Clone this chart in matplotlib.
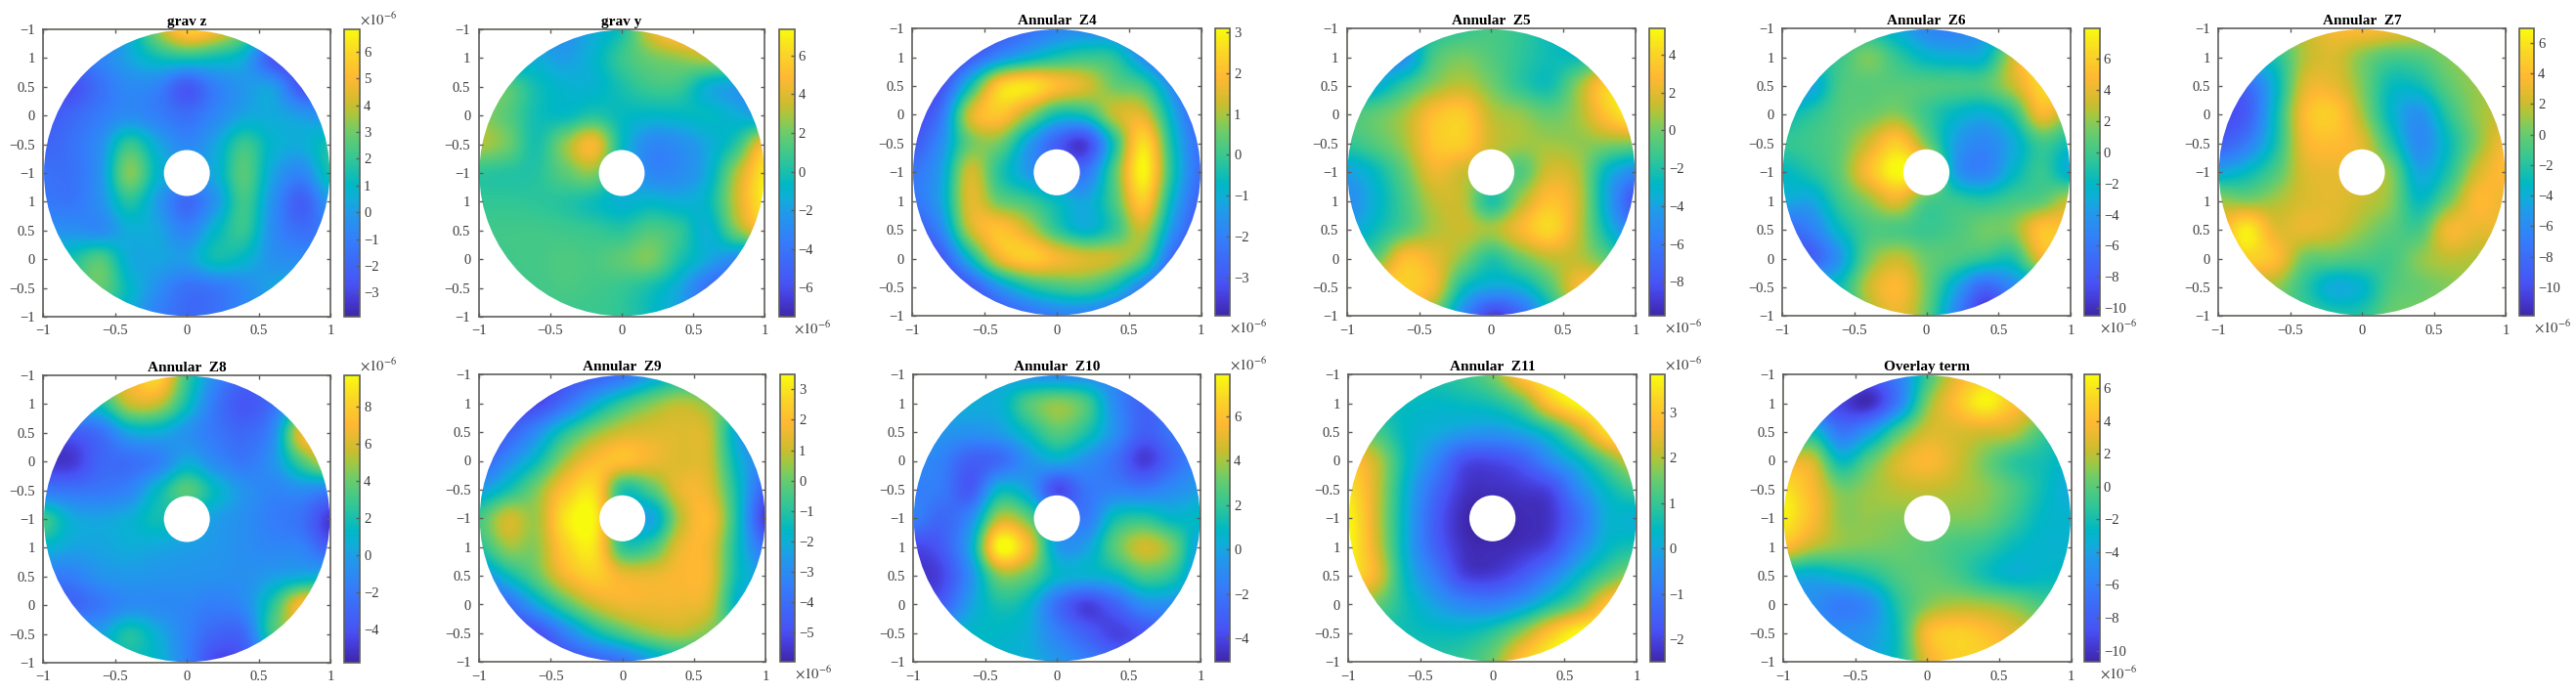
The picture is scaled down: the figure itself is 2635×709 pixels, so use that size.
import numpy as np
import matplotlib
matplotlib.use("Agg")
import matplotlib.pyplot as plt
from matplotlib.colors import LinearSegmentedColormap
from matplotlib.patches import Circle

plt.rcParams['font.family'] = ['Liberation Serif', 'DejaVu Serif']
plt.rcParams['mathtext.fontset'] = 'stix'

W, H = 2635, 709

titles = ['grav z', 'grav y', 'Annular  Z4', 'Annular  Z5', 'Annular  Z6', 'Annular  Z7',
          'Annular  Z8', 'Annular  Z9', 'Annular  Z10', 'Annular  Z11', 'Overlay term']
x_tick_labels = ['−1', '−0.5', '0', '0.5', '1']
y_tick_labels = ['−1', '1', '0.5', '0', '−0.5', '−1', '1', '0.5', '0', '−0.5', '−1']

# values (x 1e-6) sampled on an 11 x 11 grid, top row first
grav_z = [
 [-1,-1,-1,.5,3.5,5.8,5,3,0,-3,-3.5],
 [-2,-1.5,-.8,.3,1.3,1.6,1.3,.5,-2.5,-3.5,-3.5],
 [-3,-2.8,-1.5,-.6,-.9,-2.4,-1,-.1,0,-2.6,-3.2],
 [-2.5,-1.9,-1.1,-.5,-1,-1.6,-.7,.3,.4,0,-.5],
 [-2,-1.5,-.4,2,.4,-.7,.3,2.1,.8,.5,1.5],
 [-1.5,-1.5,-.2,3.2,.9,0,.5,2.6,.3,-.7,1.5],
 [-1.2,-1.3,-.3,1.7,0,-1.8,-.2,2.2,-.3,-2.2,0],
 [-.3,-.3,-.5,.5,.3,-.8,.9,2,-.5,-1.6,-1],
 [1,1.5,2.5,.5,.3,.1,1.3,.9,-.3,-.5,-.5],
 [1,2,2.8,1,-.4,-1.5,-1.3,-.6,.3,.5,.5],
 [1,1.5,1.5,.5,-1,-1.8,-1.5,-.5,.3,.5,.5]]
grav_y = [
 [-3,-3,-3,-2.5,-1.5,0,4,6,6,5,5],
 [-2,-2,-1.5,-2,-1,.8,2,2.6,3.2,3,3],
 [2,1.5,-.2,-1,-1,0,.9,.8,-1.2,-2,-2.5],
 [2.5,1.5,-.2,-.5,.3,-.5,-.8,-.7,-.6,-1.3,-2],
 [3,2,0,2.5,4.6,-.5,-3,-2.7,-1.5,.5,5],
 [.5,.3,.3,1.6,2.4,-1,-3,-2.8,-1.3,3,6.8],
 [.6,.6,.5,.3,-.3,-1.2,-.9,-1.3,-.6,3.5,7],
 [1,1,1,.9,.7,.4,1.3,.6,-1.2,2.2,5],
 [1,1,1.1,1.3,1.2,1.7,2.2,.1,-1.6,-3,-4],
 [1,1,1,1.2,1,.7,-.1,-1.6,-4.3,-6,-6],
 [1,1,1,.8,.8,.5,-.5,-2,-4,-6,-6]]
z4 = [
 [-3.9,-3.9,-3.5,-3,-2.5,-2,-1.8,-2,-3,-3.5,-3.9],
 [-3.9,-3.8,-3,-1.8,-1,-.4,-.1,-.3,-1.8,-3.2,-3.9],
 [-3.9,-3.2,-.6,2.2,2.7,2,1.4,.5,0,-1.8,-3.5],
 [-3.5,-2.3,1.3,2.2,1,-.4,-.3,1.2,1.4,-1,-3],
 [-3,-1.7,.5,.6,-1.2,-2.8,-3.4,-.3,2.6,-.5,-2.5],
 [-2.3,-1.3,1.3,-.2,-1.4,-2.2,-2.3,.3,3,-.3,-2.5],
 [-2.3,-1.2,1.5,.5,0,-.7,-1.2,.2,2.3,-.8,-2.8],
 [-3,-1.8,1.2,2.1,1.3,-.1,-.9,-.1,1.2,-1.5,-3.2],
 [-3.9,-3,-.7,1.6,2.3,1.8,1.4,1.2,.3,-2.5,-3.5],
 [-3.9,-3.8,-3,-1.5,-.4,.1,.2,-.5,-2,-3.3,-3.8],
 [-3.9,-3.9,-3.6,-3,-2.5,-2,-2,-2.5,-3.2,-3.6,-3.9]]
z5 = [
 [-2,-2,-2,-2,-1.5,-1,-1.5,-2.5,-3,-3,-3],
 [-5,-5,-4.7,-1,0,-.7,-1.6,-2.4,-2.5,-1,0],
 [-4,-3.5,-1.5,.4,1.2,0,-1.6,-2.3,.5,3.8,4],
 [-1,-.4,.8,3,3.6,1.2,.5,-.3,.8,3.5,5.3],
 [-1.5,-.6,.8,3.4,3.7,1.5,.8,.7,.5,.4,.3],
 [-4,-2.6,-.3,2.3,1.5,.5,-.7,1.7,1,-3,-5],
 [-5,-3.2,-1,1.2,1.2,-2,.8,3.2,1.5,-3.8,-8],
 [-4,-2.5,-.7,.9,1.4,.8,2.6,4.2,1.4,-2.8,-6],
 [-1,-.4,3,2.2,.3,-1.8,-.2,1.2,1.2,-.5,-2],
 [2,3.5,3.8,2.5,-2.3,-3.8,-3.3,-.8,2.6,3,3],
 [2,3,3,0,-5,-8.8,-7,-3,1,2,2]]
z6 = [
 [-1,-1,-1,-1.5,-3,-5,-5.5,-4,-2,0,2],
 [-1,-1,-.2,1.5,-.5,-2.3,-2.8,-2.4,3,7,7],
 [-5,-3.5,.2,.7,.7,.5,.3,.5,3,6.5,7],
 [-2,-.8,.6,1.2,1.8,-.2,-2,-2.8,-.8,4.5,2],
 [-.5,0,.9,3.3,5.8,1.5,-3.5,-5,-3,0,-1.5],
 [-2,-.9,1,5,7.9,6,-3.5,-5.2,-2.3,-.3,-2.8],
 [-3,-3.2,-.2,2,4,.6,-.3,-.8,.1,.8,3],
 [-7,-5.5,-2,.2,.3,-.2,.3,1.3,1.8,5.3,5],
 [-8,-7.5,-4,1.2,3,1.2,.4,-.5,-1,4,5],
 [-2,-2,-1.5,3,4.8,1.5,-3,-7,-5,-3,-3],
 [-2,-2,-2,2,4,1,-5,-10,-8,-5,-5]]
z7 = [
 [0,0,1,2,3.5,4,3.5,2.5,1,1,1],
 [-3,-3,-2,1.5,2.5,.7,-.7,-.5,.6,1,1],
 [-9,-8,-3.5,2.5,3,.5,-2.8,-2.7,-.3,1,1],
 [-10,-9,-3,3.7,4.8,1.3,-3.3,-5.5,-1.8,.9,2],
 [-9,-7,-2.5,3.2,4,2.7,-1.8,-6,-3,.6,3.5],
 [-4.5,-3.2,-.8,2.5,3,2.5,.6,-4.5,-2.2,2.2,4],
 [1,.5,1.3,2.5,2.8,2,.7,-3,0,3.7,3],
 [3,6.3,2.8,3,2.4,1,-.3,-1,3.3,3,3],
 [3,5,4,.2,-.3,-.8,-1,.7,1.8,1.5,1],
 [1,1,1,-1.7,-4.2,-3.5,-.8,0,.6,1,1],
 [1,1,0,-1,-2,-2,0,.5,1,1,1]]
z8 = [
 [2,3,5,7,8.5,3,-1,-3,-3,-3,-3],
 [1,1,2,5.5,5.5,1.8,-2,-3.8,-2.5,1,2],
 [-4,-3.5,-2.4,.3,.6,-.6,-2,-2.8,-1,6.5,7],
 [-5,-5,-3,-2.5,-1.6,.5,-1,-2,-.5,3.3,6],
 [-2,-2.2,-2,-1.3,1.3,3.6,1.3,-.5,-1.3,-.9,-1.5],
 [3,.6,.2,.7,1.8,1,0,-.8,-1.7,-2.4,-5],
 [1,.2,.2,.5,.3,0,-.3,-.8,-1.2,-1.4,-3.5],
 [-2,-1.7,-.6,-.3,-.4,-.5,-.6,-.7,0,.6,1],
 [-3.5,-3,-2,-.9,-1,-1.2,-1.7,-1,2.5,7.2,7],
 [0,0,.2,2.2,.6,-1.4,-3,-2.7,3,5,5],
 [0,0,1,1.5,1,-1.5,-4.5,-4,-1,3,3]]
z9 = [
 [-6,-6,-5.5,-5,-4.5,-3.8,-2.5,-1.5,-1.5,-3,-4],
 [-6,-5.5,-5.2,-3.9,-2.2,-.8,.2,.8,.3,-1,-2],
 [-5.5,-4.5,-3,-1.1,.3,1.1,1.3,1.3,1,-2.2,-3.5],
 [-4.5,-3,-1.5,.6,1.9,2.1,1.6,1.3,1.1,-1.8,-3.3],
 [-2.5,-1.3,.2,2.1,2.8,-1,-.3,1.5,1.4,-1.4,-4.5],
 [-.5,1.1,.6,3,3.3,-1,-2.3,.8,1.9,-1.3,-5.5],
 [-1,.5,.4,2.5,3,-.8,-.6,1.5,1.6,-1.4,-4],
 [-3,-1.5,-.1,1.7,2.5,1.6,1.5,1.8,1.6,-1.4,-2.5],
 [-5,-4,-2.2,-.4,1,1.6,1.6,1.6,1.2,-1.8,-2.5],
 [-6,-5.5,-5,-3.3,-1.6,-.4,.5,.8,.2,-1,-2],
 [-6,-6,-5.5,-5,-4.5,-3.8,-2.5,-1.5,-1.5,-2,-2.5]]
z10 = [
 [1,1,.5,0,-.7,-1,-1,-1.5,-2,-1,-1],
 [.8,.6,.3,.4,2.6,3.6,2.5,-1,-2.8,-2,-1.5],
 [-.3,-.5,-.7,-.3,1.2,2.8,1.6,-.8,-3,-2,-1.5],
 [-1,-1.5,-3,-2.5,-.7,.2,-.8,-2.2,-4.3,-2.6,-1],
 [-1.5,-1.8,-3.2,.7,-.2,-3.8,-2,-1.5,-1.8,-1,-.3],
 [-1.5,-2.6,-1,4.2,3,-1,-1.8,1.2,1.8,.8,.9],
 [-4,-3.2,.2,7.8,5.5,-.2,-.2,2.8,4.6,3.3,-.5],
 [-4.5,-4,-.8,3.5,3,.7,.4,.9,2.5,1.8,-1],
 [-4,-3,-.2,1.5,.8,-2.3,-4.1,-2.8,-.9,-.8,-1],
 [0,0,.8,.8,.3,-1.5,-3,-4.1,-3.5,-3,-2],
 [0,0,.8,.6,.3,-.5,-1.5,-2.5,-3,-3,-3]]
z11 = [
 [.8,.8,.8,.8,1,1.6,3,3.8,3.8,3.8,3.8],
 [.7,.6,.5,.4,.5,.7,1.4,3,3.8,3.8,3.8],
 [1.8,1.2,.4,.1,-.2,-.3,0,.7,2,3.5,3.8],
 [3,2.1,.5,-.6,-1.8,-1.9,-1.5,-.5,.4,1.5,2.5],
 [3.5,2.2,.3,-1.2,-2.2,-2.3,-2.2,-1.9,-.5,.5,1.1],
 [3.8,2.2,.2,-1.5,-2.4,-2.5,-2.4,-2.2,-1.1,.2,.2],
 [3.8,2.3,.2,-1.4,-2.3,-2.4,-2.3,-1.9,-.6,.4,.7],
 [3.5,2.5,.4,-.8,-2,-2.1,-1.6,-.7,.4,1.3,2],
 [2,1.5,.6,-.1,-.6,-.7,-.2,.7,1.6,3,3.8],
 [.8,.7,.6,.5,.5,.9,1.8,3,3.8,3.8,3.8],
 [.8,.8,.8,.8,1,1.6,3,3.8,3.8,3.8,3.8]]
overlay = [
 [-5,-5,-7,-8,-6,-1,3,5,6,6,6],
 [-7,-8,-9.3,-10.3,-6,.8,4.2,6.5,4.5,3,2],
 [-4,-2.5,-6.5,-4.5,-.3,2.5,2.7,2.5,2,-.5,-2],
 [3,2.5,-2.5,0,2.6,3.8,2.5,.7,-1.2,-2,-3],
 [6,3.8,.7,1.3,2,2.2,1.8,1.1,-.3,-2.2,-3.7],
 [6.5,4,1.2,1.2,1,1,.9,.5,-1,-2.7,-3],
 [4,2,1,.7,.5,0,-.6,-1.2,-2.4,-3,-3],
 [-3,-3.5,-2.8,-1.8,-.3,.2,-.5,-2,-3,-2.7,-2.5],
 [-5,-5,-6.2,-5.2,-1.5,.9,1.7,1.5,.8,-.5,-1],
 [-5,-5,-5,-4.5,-2,3.8,5,4.3,3,2,2],
 [-5,-5,-5,-4,-2,3,5,5,4,3,3]]
fields = [grav_z, grav_y, z4, z5, z6, z7, z8, z9, z10, z11, overlay]

color_limits = [(-3.9,6.83),(-7.5,7.35),(-3.93,3.08),(-9.8,5.38),(-10.5,7.92),(-11.88,6.94),
                (-5.8,9.7),(-5.96,3.48),(-5.07,7.87),(-2.5,3.83),(-10.7,6.82)]
color_ticks = [list(range(-3,7)), list(range(-6,7,2)), list(range(-3,4)), list(range(-8,5,2)),
               list(range(-10,7,2)), list(range(-10,7,2)), list(range(-4,9,2)), list(range(-5,4)),
               list(range(-4,7,2)), list(range(-2,4)), list(range(-10,7,2))]
exponent_on_top = [True, False, False, False, False, False, True, False, True, True, False]

# layout in pixels: axes left, axes right, colorbar left, colorbar right, top, bottom
boxes = [(44.3,338,352,368,30,324),(489.6,782.4,796.6,812.5,30,324),(933.3,1228.7,1242.7,1258,29.3,323.3),
         (1377.7,1673,1687,1702.7,29.3,323.3),(1823,2118,2131.7,2147.7,29.3,323.3),(2269,2563,2576.7,2592,29.3,323.3),
         (44.3,338,352,368,384,678),(490,783.3,797.7,813,383.3,677.3),(934,1228.3,1242.7,1258,383.3,677.3),
         (1379,1674.3,1687.7,1703,383.3,677.3),(1824,2118.7,2131.7,2147.7,383.3,677.3)]

parula = LinearSegmentedColormap.from_list('parula', [
 (0.00,(0.2422,0.1504,0.6603)),(0.06,(0.272,0.235,0.85)),(0.111,(0.281,0.323,0.958)),(0.27,(0.20,0.50,0.98)),
 (0.36,(0.13,0.60,0.92)),(0.41,(0.06,0.68,0.85)),(0.46,(0.0,0.72,0.77)),(0.55,(0.20,0.78,0.58)),
 (0.64,(0.42,0.80,0.42)),(0.70,(0.65,0.78,0.25)),(0.74,(0.80,0.74,0.18)),(0.83,(1.0,0.72,0.20)),
 (0.92,(0.98,0.84,0.15)),(1.00,(0.9763,0.9831,0.0538))], N=256)

EDGE = '#5f5f5a'
TXT = '#3a3a3a'

fig = plt.figure(figsize=(W/100, H/100), dpi=100, facecolor='white')

for title, field, lim, cticks, on_top, (l, r, cl, cr, t, b) in zip(
        titles, fields, color_limits, color_ticks, exponent_on_top, boxes):
    ax = fig.add_axes([l/W, 1-b/H, (r-l)/W, (b-t)/H])
    im = ax.imshow(np.array(field, float), extent=(-1.1,1.1,-1.1,1.1), origin='upper', cmap=parula,
                   vmin=lim[0], vmax=lim[1], interpolation='catrom', interpolation_stage='data', aspect='auto')
    clip = Circle((0,0), 0.995, transform=ax.transData)
    im.set_clip_path(clip)
    ax.add_patch(Circle((0,0), 0.16, facecolor='white', edgecolor='none', zorder=3))
    ax.set_xlim(-1,1); ax.set_ylim(-1,1)
    ax.set_xticks(np.linspace(-1,1,5)); ax.set_xticklabels(x_tick_labels)
    ax.set_yticks(np.linspace(1,-1,11)); ax.set_yticklabels(y_tick_labels)
    ax.tick_params(direction='in', length=3.2, width=1.0, color=EDGE, labelcolor=TXT, labelsize=10.5,
                   top=True, right=True, pad=6)
    for s in ax.spines.values():
        s.set_color(EDGE); s.set_linewidth(1.2)
    ax.set_title(title, fontsize=11, fontweight='bold', color='black', pad=3)

    cax = fig.add_axes([cl/W, 1-b/H, (cr-cl)/W, (b-t)/H])
    cb = fig.colorbar(im, cax=cax, ticks=cticks)
    cb.ax.set_yticklabels([str(v).replace('-', '−') for v in cticks])
    cb.ax.tick_params(direction='in', length=3.2, width=1.0, color=EDGE, labelcolor=TXT, labelsize=10.5, pad=3)
    cb.outline.set_edgecolor(EDGE); cb.outline.set_linewidth(1.2)
    yy = (t-10) if on_top else (b+12)
    fig.text(cr/W, 1-yy/H, r'$\times 10^{-6}$', fontsize=10.5, color=TXT, ha='left', va='center')

fig.savefig('out.png', dpi=100, facecolor='white')
